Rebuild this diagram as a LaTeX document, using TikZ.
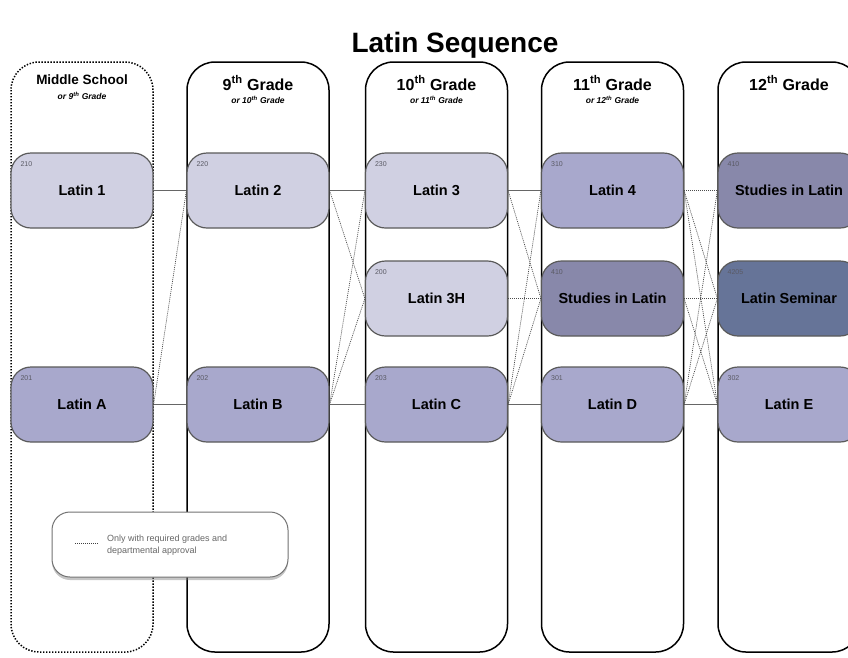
\documentclass[tikz,border=0pt]{standalone}
\usepackage{fontspec}
\setmainfont{Liberation Sans}
\usetikzlibrary{shadows}
\definecolor{lightc}{RGB}{208,208,226}
\definecolor{midc}{RGB}{168,168,204}
\definecolor{studc}{RGB}{136,136,170}
\definecolor{semc}{RGB}{102,116,152}
\definecolor{boxline}{RGB}{90,90,90}
\definecolor{numc}{RGB}{90,90,100}
\begin{document}
\begin{tikzpicture}[x=1pt,y=-1pt,
  col/.style={draw=black, line width=1.5pt, rounded corners=28pt, fill=white},
  dotcol/.style={draw=black, line width=1.5pt, dash pattern=on 1.4pt off 1.6pt, rounded corners=28pt, fill=white},
  course/.style={draw=boxline, line width=1.2pt, rounded corners=20pt, minimum width=142pt, minimum height=75pt, inner sep=0pt, font=\bfseries\fontsize{14.5}{17}\selectfont},
  num/.style={font=\fontsize{7}{8}\selectfont, text=numc, anchor=west, inner sep=0pt},
  head/.style={font=\bfseries\fontsize{16}{19}\selectfont},
  sub/.style={font=\bfseries\itshape\fontsize{8.5}{10}\selectfont},
  solidlink/.style={draw=black!60, line width=0.9pt},
  optlink/.style={draw=black!70, line width=0.7pt, dash pattern=on 1pt off 1pt},
]
\useasboundingbox (0,0) rectangle (848,657);
\clip (0,0) rectangle (848,657);
% title
\node[font=\bfseries\fontsize{28}{32}\selectfont] (title) at (455,45) {Latin Sequence};
% columns
\draw[dotcol] (11,62) rectangle (153,652);
\draw[col] (187,62) rectangle (329,652);
\draw[col] (365.5,62) rectangle (507.5,652);
\draw[col] (541.5,62) rectangle (683.5,652);
\draw[col] (718,62) rectangle (860,652);
% headers
\node[font=\bfseries\fontsize{13.5}{16}\selectfont] (h0) at (82,80) {Middle School};
\node[sub] (s0) at (82,96) {or 9\textsuperscript{th} Grade};
\node[head] (h1) at (258,83) {9\textsuperscript{th} Grade};
\node[sub] (s1) at (258,100) {or 10\textsuperscript{th} Grade};
\node[head] (h2) at (436.5,83) {10\textsuperscript{th} Grade};
\node[sub] (s2) at (436.5,100) {or 11\textsuperscript{th} Grade};
\node[head] (h3) at (612.5,83) {11\textsuperscript{th} Grade};
\node[sub] (s3) at (612.5,100) {or 12\textsuperscript{th} Grade};
\node[head] (h4) at (789,83) {12\textsuperscript{th} Grade};
% course boxes
\node[course, fill=lightc] (L1) at (82,190.5) {Latin 1};
\node[course, fill=midc] (LA) at (82,404.5) {Latin A};
\node[course, fill=lightc] (L2) at (258,190.5) {Latin 2};
\node[course, fill=midc] (LB) at (258,404.5) {Latin B};
\node[course, fill=lightc] (L3) at (436.5,190.5) {Latin 3};
\node[course, fill=lightc] (L3H) at (436.5,298.5) {Latin 3H};
\node[course, fill=midc] (LC) at (436.5,404.5) {Latin C};
\node[course, fill=midc] (L4) at (612.5,190.5) {Latin 4};
\node[course, fill=studc] (S11) at (612.5,298.5) {Studies in Latin};
\node[course, fill=midc] (LD) at (612.5,404.5) {Latin D};
\node[course, fill=studc] (S12) at (789,190.5) {Studies in Latin};
\node[course, fill=semc] (LS) at (789,298.5) {Latin Seminar};
\node[course, fill=midc] (LE) at (789,404.5) {Latin E};
% links
\draw[solidlink] (L1.east) -- (L2.west);
\draw[solidlink] (LA.east) -- (LB.west);
\draw[optlink] (LA.east) -- (L2.west);
\draw[solidlink] (L2.east) -- (L3.west);
\draw[solidlink] (LB.east) -- (LC.west);
\draw[optlink] (L2.east) -- (L3H.west);
\draw[optlink] (LB.east) -- (L3.west);
\draw[optlink] (LB.east) -- (L3H.west);
\draw[solidlink] (L3.east) -- (L4.west);
\draw[solidlink] (LC.east) -- (LD.west);
\draw[optlink] (L3.east) -- (S11.west);
\draw[optlink] (L3H.east) -- (S11.west);
\draw[optlink] (LC.east) -- (L4.west);
\draw[optlink] (LC.east) -- (S11.west);
\draw[optlink] (L4.east) -- (S12.west);
\draw[optlink] (S11.east) -- (LS.west);
\draw[solidlink] (LD.east) -- (LE.west);
\draw[optlink] (L4.east) -- (LS.west);
\draw[optlink] (L4.east) -- (LE.west);
\draw[optlink] (S11.east) -- (LE.west);
\draw[optlink] (LD.east) -- (S12.west);
\draw[optlink] (LD.east) -- (LS.west);
% course numbers
\node[num] (n1) at ([xshift=10pt,yshift=-12pt]L1.north west) {210};
\node[num] (nA) at ([xshift=10pt,yshift=-12pt]LA.north west) {201};
\node[num] (n2) at ([xshift=10pt,yshift=-12pt]L2.north west) {220};
\node[num] (nB) at ([xshift=10pt,yshift=-12pt]LB.north west) {202};
\node[num] (n3) at ([xshift=10pt,yshift=-12pt]L3.north west) {230};
\node[num] (n3H) at ([xshift=10pt,yshift=-12pt]L3H.north west) {200};
\node[num] (nC) at ([xshift=10pt,yshift=-12pt]LC.north west) {203};
\node[num] (n4) at ([xshift=10pt,yshift=-12pt]L4.north west) {310};
\node[num] (nS11) at ([xshift=10pt,yshift=-12pt]S11.north west) {410};
\node[num] (nD) at ([xshift=10pt,yshift=-12pt]LD.north west) {301};
\node[num] (nS12) at ([xshift=10pt,yshift=-12pt]S12.north west) {410};
\node[num] (nLS) at ([xshift=10pt,yshift=-12pt]LS.north west) {4205};
\node[num] (nE) at ([xshift=10pt,yshift=-12pt]LE.north west) {302};
% legend
\node[draw=black!55, line width=1pt, fill=white, rounded corners=18pt, minimum width=236pt, minimum height=65pt,
      drop shadow={shadow xshift=0pt, shadow yshift=-3pt, opacity=0.45}] (legend) at (170,544.5) {};
\coordinate (la) at (75,543);
\coordinate (lb) at (98,543);
\draw[optlink, draw=black!75, line width=0.9pt] (la) -- (lb);
\node[anchor=west, align=left, text=black!60, font=\fontsize{9}{12.5}\selectfont, inner sep=0pt] (legtext) at (107,545) {Only with required grades and\\departmental approval};
\end{tikzpicture}
\end{document}
